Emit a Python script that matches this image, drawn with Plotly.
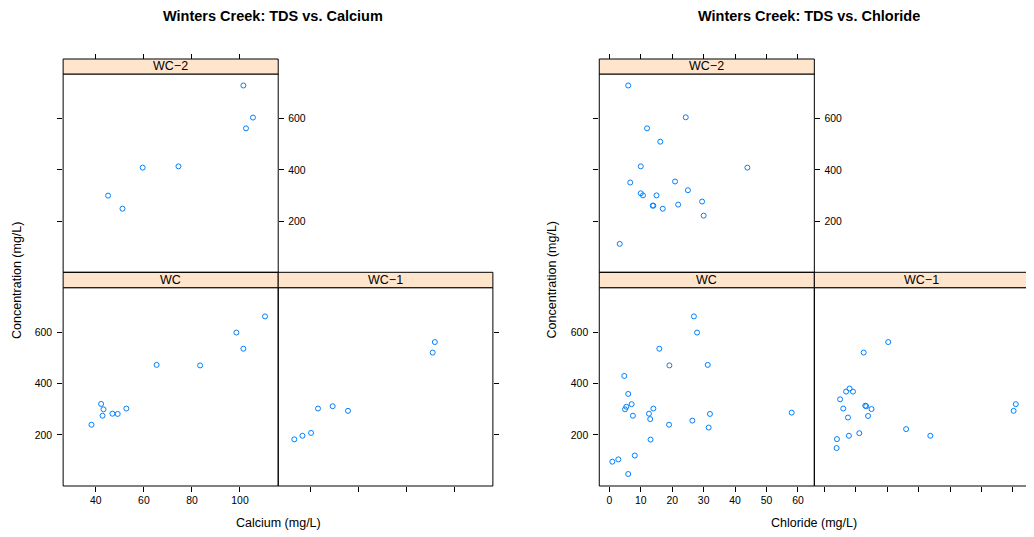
import plotly.graph_objects as go

# ---- data ----
panels = ["WC", "WC\u22121", "WC\u22122"]

# TDS vs. Calcium
ca_wc_x = [38.2, 42.2, 43.2, 42.8, 46.9, 49.1, 52.7, 65.3, 83.4, 98.5, 101.4, 110.4]
ca_wc_y = [240, 321, 300, 275, 283, 282, 303, 473, 471, 599, 536, 662]
ca_wc1_x = [33.1, 36.5, 40.1, 43.0, 49.1, 55.5, 90.8, 91.7]
ca_wc1_y = [183, 197, 208, 303, 312, 294, 521, 562]
ca_wc2_x = [45.1, 51.1, 59.5, 74.4, 101.4, 102.5, 105.4]
ca_wc2_y = [300, 249, 409, 414, 729, 562, 604]

# TDS vs. Chloride
cl_wc_x = [0.95, 2.85, 6.0, 4.75, 6.0, 5.4, 5.0, 7.1, 7.5, 8.1, 12.6, 13.0,
           13.1, 14.0, 15.9, 19.1, 19.0, 26.4, 26.9, 27.9, 31.3, 31.6, 32.0, 58.0]
cl_wc_y = [96, 105, 48, 430, 360, 310, 300, 320, 275, 120, 283, 262,
           182, 303, 536, 471, 240, 256, 662, 599, 473, 229, 282, 287]
cl_wc1_x = [3.9, 4.0, 5.0, 6.0, 6.9, 7.5, 7.8, 8.0, 9.1, 11.1, 12.5, 13.0,
            13.3, 13.9, 15.0, 20.3, 26.0, 33.7, 60.2, 60.9]
cl_wc1_y = [149, 184, 339, 303, 369, 268, 197, 381, 369, 207, 521, 314,
            312, 274, 301, 562, 223, 197, 294, 320]
cl_wc2_x = [6.0, 3.3, 6.65, 10.0, 10.0, 10.7, 12.0, 13.8, 14.0, 15.0, 16.2,
            17.0, 20.9, 21.9, 24.3, 25.0, 29.5, 30.0, 43.9]
cl_wc2_y = [729, 112, 351, 414, 309, 301, 562, 261, 261, 301, 510,
            249, 355, 265, 605, 321, 277, 222, 409]

ca_range = [26.4, 115.9]
cl_range = [-3.2, 65.2]
y_range = [1.3, 773.7]
ca_ticks = [40, 60, 80, 100]
cl_ticks = [0, 10, 20, 30, 40, 50, 60]
y_ticks = [200, 400, 600]

# the page body adds an 8px margin, so the figure is drawn 8px smaller
OFF = 8
W, H = 1034 - OFF, 537 - OFF
FONT = "Liberation Sans, Arial, sans-serif"
PT_COL = "#0080FF"
STRIP_COL = "#FFE5CC"


def px_x(v):
    return (v - OFF) / W


def px_y(v):
    return (H - (v - OFF)) / H


# panel geometry (window pixels)
bot_top, bot_bot = 287.7, 486.0
top_top, top_bot = 74.0, 272.3
strip_top = 59.0
charts = [
    dict(x0=63.3, x1=279.0, x2=494.3, rng=ca_range, ticks=ca_ticks,
         data=[(ca_wc_x, ca_wc_y), (ca_wc1_x, ca_wc1_y), (ca_wc2_x, ca_wc2_y)],
         title="Winters Creek: TDS vs. Calcium", tx=274, xlab="Calcium (mg/L)", ylx=17),
    dict(x0=601.0, x1=816.7, x2=1032.3, rng=cl_range, ticks=cl_ticks,
         data=[(cl_wc_x, cl_wc_y), (cl_wc1_x, cl_wc1_y), (cl_wc2_x, cl_wc2_y)],
         title="Winters Creek: TDS vs. Chloride", tx=811.7, xlab="Chloride (mg/L)", ylx=554),
]

fig = go.Figure()
layout = {}
shapes = []
annotations = []

tickfont = dict(family=FONT, size=10.4, color="black")
ax_common = dict(showgrid=False, zeroline=False, showline=False, ticks="outside",
                 ticklen=5, tickwidth=1, tickcolor="black", tickfont=tickfont)

n = 0
for c in charts:
    boxes = [
        (c["x0"], c["x1"], bot_top, bot_bot),   # WC
        (c["x1"], c["x2"], bot_top, bot_bot),   # WC-1
        (c["x0"], c["x1"], top_top, top_bot),   # WC-2
    ]
    for i, (bx0, bx1, by0, by1) in enumerate(boxes):
        n += 1
        xa, ya = f"xaxis{n}", f"yaxis{n}"
        xd = [px_x(bx0), min(px_x(bx1), 1.0)]
        yd = [px_y(by1), px_y(by0)]
        xs, ys = c["data"][i]
        fig.add_trace(go.Scatter(
            x=xs, y=ys, mode="markers", xaxis=f"x{n}", yaxis=f"y{n}",
            marker=dict(symbol="circle-open", size=5, color=PT_COL,
                        line=dict(width=1, color=PT_COL)),
            showlegend=False, hoverinfo="x+y"))

        xcfg = dict(ax_common, domain=xd, range=c["rng"], tickvals=c["ticks"])
        ycfg = dict(ax_common, domain=yd, range=y_range, tickvals=y_ticks)
        if i == 0:
            xcfg.update(anchor=f"y{n}", side="bottom")
            ycfg.update(anchor=f"x{n}", side="left", ticklabelstandoff=3)
        elif i == 1:
            xcfg.update(anchor=f"y{n}", side="bottom", showticklabels=False)
            ycfg.update(anchor=f"x{n}", side="right", showticklabels=False)
        else:
            # top ticks sit above the strip
            xcfg.update(anchor="free", position=px_y(strip_top), side="top",
                        showticklabels=False)
            ycfg.update(anchor=f"x{n}", side="right", mirror="ticks",
                        ticklabelstandoff=2)
        layout[xa] = xcfg
        layout[ya] = ycfg

        # panel border
        shapes.append(dict(type="rect", xref="paper", yref="paper",
                           x0=xd[0], x1=xd[1], y0=yd[0], y1=yd[1],
                           line=dict(color="black", width=1), layer="above"))
        # strip
        s_top = strip_top if i == 2 else top_bot
        shapes.append(dict(type="rect", xref="paper", yref="paper",
                           x0=xd[0], x1=xd[1], y0=px_y(by0), y1=px_y(s_top),
                           fillcolor=STRIP_COL, line=dict(color="black", width=1),
                           layer="above"))
        annotations.append(dict(text=panels[i], xref="paper", yref="paper",
                                x=(xd[0] + xd[1]) / 2, y=px_y((by0 + s_top) / 2),
                                showarrow=False, xanchor="center", yanchor="middle",
                                font=dict(family=FONT, size=12.5, color="black")))

    # chart title and axis titles
    annotations.append(dict(text=f"<b>{c['title']}</b>", xref="paper", yref="paper",
                            x=px_x(c["tx"]), y=px_y(16), showarrow=False,
                            xanchor="center", yanchor="middle",
                            font=dict(family=FONT, size=14.5, color="black")))
    annotations.append(dict(text=c["xlab"], xref="paper", yref="paper",
                            x=px_x((c["x0"] + c["x2"]) / 2), y=px_y(523),
                            showarrow=False, xanchor="center", yanchor="middle",
                            font=dict(family=FONT, size=12.5, color="black")))
    annotations.append(dict(text="Concentration (mg/L)", xref="paper", yref="paper",
                            x=px_x(c["ylx"]), y=px_y(280), textangle=-90,
                            showarrow=False, xanchor="center", yanchor="middle",
                            font=dict(family=FONT, size=12.5, color="black")))

fig.update_layout(
    width=W, height=H,
    margin=dict(l=0, r=0, t=0, b=0),
    plot_bgcolor="white", paper_bgcolor="white",
    shapes=shapes, annotations=annotations,
    font=dict(family=FONT, color="black"),
    **layout,
)

fig.write_html("out.html")
